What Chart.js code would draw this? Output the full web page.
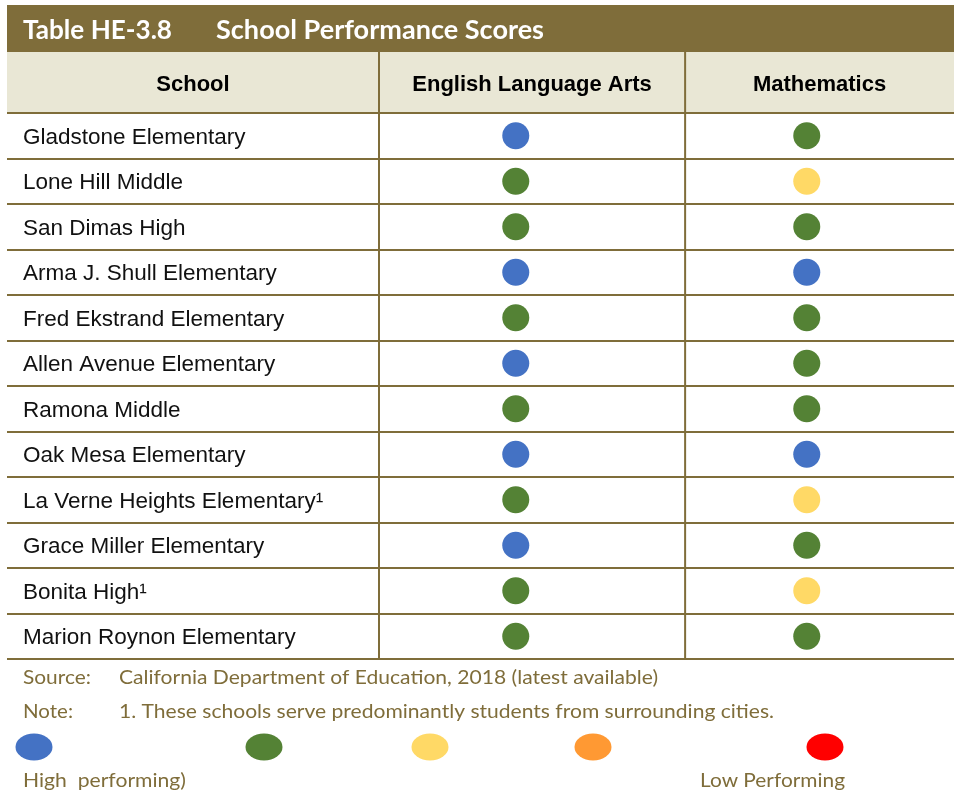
<!DOCTYPE html>
<html>
<head>
<meta charset="utf-8">
<script src="https://cdn.jsdelivr.net/npm/chart.js@4.4.0/dist/chart.umd.min.js"></script>
<style>
  html, body { margin: 0; padding: 0; background: #fff; }
  #wrap { width: 954px; height: 797px; position: relative; }
</style>
</head>
<body>
<div id="wrap"><canvas id="myChart"></canvas></div>
<script>
// --- data ---
const tableTitle = ["Table HE-3.8", "School Performance Scores"];
const columns = ["School", "English Language Arts", "Mathematics"];
const schools = [
  "Gladstone Elementary",
  "Lone Hill Middle",
  "San Dimas High",
  "Arma J. Shull Elementary",
  "Fred Ekstrand Elementary",
  "Allen Avenue Elementary",
  "Ramona Middle",
  "Oak Mesa Elementary",
  "La Verne Heights Elementary\u00B9",
  "Grace Miller Elementary",
  "Bonita High\u00B9",
  "Marion Roynon Elementary",
];
// performance level: 1 = high ... 5 = low
const elaScores  = [1, 2, 2, 1, 2, 1, 2, 1, 2, 1, 2, 2];
const mathScores = [2, 3, 2, 1, 2, 2, 2, 1, 3, 2, 3, 2];
const levels = [1, 2, 3, 4, 5];
const levelColors = ["#4472C4", "#548235", "#FFD966", "#FF9933", "#FF0000"];
const legendLabels = ["High  performing)", "Low Performing"];
const sourceLine = ["Source:", "California Department of Education, 2018 (latest available)"];
const noteLine = ["Note:", "1. These schools serve predominantly students from surrounding cities."];

// --- styles ---
const olive = "#7F6D3A";
const headerBg = "#E9E7D5";

const colorOf = (lvl) => levelColors[lvl - 1];

// draw text stretched/squeezed to a given width (Calibri-ish look)
const fitText = (c, text, x, y, w) => {
  const m = c.measureText(text).width;
  c.save();
  c.translate(x, y);
  c.scale(w / m, 1);
  c.fillText(text, 0, 0);
  c.restore();
};

const tableFrame = {
  id: "tableFrame",
  beforeDraw(chart) {
    const c = chart.ctx;
    const a = chart.chartArea;
    const xs = chart.scales.x;
    const W = chart.width;
    const rowH = (a.bottom - a.top) / schools.length;
    const divider = xs.getPixelForValue(0.582);
    c.save();

    // title bar
    c.fillStyle = olive;
    c.fillRect(7, 5, W - 7, 47);
    c.fillStyle = "#fff";
    c.font = "bold 26px Lato";
    c.textBaseline = "middle";
    c.textAlign = "left";
    fitText(c, tableTitle[0], 23, 31, 149);
    fitText(c, tableTitle[1], 216, 31, 328);

    // header row
    c.fillStyle = headerBg;
    c.fillRect(7, 52, W - 7, a.top - 52);
    c.fillStyle = "#000";
    c.font = "bold 22px 'Liberation Sans'";
    c.textAlign = "center";
    c.fillText(columns[0], (7 + a.left) / 2, 85);
    c.fillText(columns[1], (a.left + divider) / 2, 85);
    c.fillText(columns[2], (divider + a.right) / 2, 85);

    // grid lines
    c.strokeStyle = olive;
    c.lineWidth = 2;
    c.beginPath();
    for (let k = 0; k <= schools.length; k++) {
      const yy = Math.round(a.top + k * rowH);
      c.moveTo(7, yy);
      c.lineTo(W, yy);
    }
    c.moveTo(a.left, 52);
    c.lineTo(a.left, a.bottom);
    c.moveTo(divider, 52);
    c.lineTo(divider, a.bottom);
    c.stroke();

    // footer notes
    c.fillStyle = olive;
    c.font = "20px Lato";
    c.textAlign = "left";
    fitText(c, sourceLine[0], 23, 678, 68);
    fitText(c, sourceLine[1], 119, 678, 539);
    fitText(c, noteLine[0], 23, 712, 50);
    fitText(c, noteLine[1], 119, 712, 655);

    // legend
    const legendX = [34, 264, 430, 593, 825];
    levels.forEach((lvl, i) => {
      c.fillStyle = colorOf(lvl);
      c.beginPath();
      c.ellipse(legendX[i], 747, 18.5, 13.5, 0, 0, Math.PI * 2);
      c.fill();
    });
    c.fillStyle = olive;
    fitText(c, legendLabels[0], 23, 781, 163);
    fitText(c, legendLabels[1], 700, 781, 145);
    c.restore();
  },
};

const ctx = document.getElementById("myChart");
new Chart(ctx, {
  type: "scatter",
  data: {
    datasets: [
      {
        label: columns[1],
        data: schools.map((s) => ({ x: 0, y: s })),
        pointBackgroundColor: elaScores.map(colorOf),
      },
      {
        label: columns[2],
        data: schools.map((s) => ({ x: 1, y: s })),
        pointBackgroundColor: mathScores.map(colorOf),
      },
    ],
  },
  options: {
    responsive: true,
    maintainAspectRatio: false,
    animation: false,
    events: [],
    devicePixelRatio: 1,
    layout: { autoPadding: false, padding: { left: 23, top: 113, right: 0, bottom: 138 } },
    elements: {
      point: { radius: 13.5, hoverRadius: 13.5, borderWidth: 0 },
    },
    plugins: { legend: { display: false }, tooltip: { enabled: false } },
    scales: {
      x: { type: "linear", min: -0.47, max: 1.506, display: false },
      y: {
        type: "category",
        labels: schools,
        offset: true,
        grid: { display: false },
        border: { display: false },
        ticks: {
          autoSkip: false,
          crossAlign: "far",
          padding: 0,
          labelOffset: 2,
          color: "#111",
          font: { family: "'Liberation Sans'", size: 22.5 },
        },
        afterFit(scale) {
          scale.width = 379 - 23;
        },
      },
    },
  },
  plugins: [tableFrame],
});
</script>
</body>
</html>
